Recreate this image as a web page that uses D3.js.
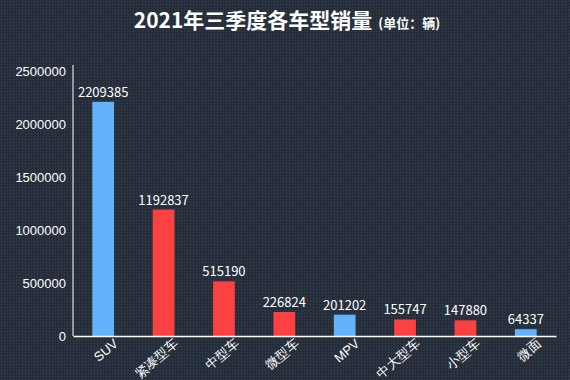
<!DOCTYPE html>
<meta charset="utf-8">
<style>
body { margin: 0; background: #262e3b; }
svg { display: block; font-family: "Noto Sans CJK SC", "Noto Sans", sans-serif; }
.axis path, .axis line { stroke: #fff; }
.axis text { fill: #fff; font-size: 13px; }
</style>
<svg width="570" height="380"></svg>
<script src="https://cdn.jsdelivr.net/npm/d3@7"></script>
<script>

// 车型 / 销量
var categories = ["SUV", "紧凑型车", "中型车", "微型车", "MPV", "中大型车", "小型车", "微面"];
var sales = [2209385, 1192837, 515190, 226824, 201202, 155747, 147880, 64337];
var barColors = ["#63b3fb", "#fb4141", "#fb4141", "#fb4141", "#63b3fb", "#fb4141", "#fb4141", "#63b3fb"];
var yTicks = [0, 500000, 1000000, 1500000, 2000000, 2500000];

var svg = d3.select("svg"),
    width = +svg.attr("width"),
    height = +svg.attr("height");

// textured background
var defs = svg.append("defs");
var pat = defs.append("pattern")
    .attr("id", "bg")
    .attr("width", 3).attr("height", 3)
    .attr("patternUnits", "userSpaceOnUse");
pat.append("rect").attr("width", 3).attr("height", 3).attr("fill", "#2a323f");
pat.append("rect").attr("x", 0).attr("y", 0).attr("width", 1).attr("height", 1).attr("fill", "#1f2631");
pat.append("rect").attr("x", 1).attr("y", 1).attr("width", 1).attr("height", 1).attr("fill", "#323a48");
pat.append("rect").attr("x", 2).attr("y", 2).attr("width", 1).attr("height", 1).attr("fill", "#1f2631");
svg.append("rect").attr("width", width).attr("height", height).attr("fill", "url(#bg)");

var margin = {top: 71, left: 73, right: 14, bottom: 44};

var x = d3.scaleBand()
    .domain(categories)
    .range([margin.left, width - margin.right])
    .paddingInner(0.64)
    .paddingOuter(0.32);

var y = d3.scaleLinear()
    .domain([0, 2500000])
    .range([height - margin.bottom, margin.top]);

// title
var title = svg.append("text")
    .attr("x", 287)
    .attr("y", 28)
    .attr("text-anchor", "middle")
    .attr("fill", "#fff")
    .style("font-weight", "bold");
title.append("tspan").style("font-size", "21px").text("2021年三季度各车型销量");
title.append("tspan").style("font-size", "13px").attr("dx", 6).text("(单位：辆)");

// bars
svg.append("g")
  .selectAll("rect")
  .data(sales)
  .enter().append("rect")
    .attr("x", function(d, i) { return x(categories[i]); })
    .attr("y", function(d) { return y(d); })
    .attr("width", x.bandwidth())
    .attr("height", function(d) { return y(0) - y(d); })
    .attr("fill", function(d, i) { return barColors[i]; });

// value labels
svg.append("g")
  .selectAll("text")
  .data(sales)
  .enter().append("text")
    .attr("x", function(d, i) { return x(categories[i]) + x.bandwidth() / 2; })
    .attr("y", function(d) { return y(d) - 5; })
    .attr("text-anchor", "middle")
    .attr("fill", "#fff")
    .style("font-size", "13px")
    .text(function(d) { return d; });

// y axis
var yAxis = svg.append("g")
    .attr("class", "axis")
    .attr("transform", "translate(" + margin.left + ",0)")
    .call(d3.axisLeft(y).tickValues(yTicks).tickFormat(d3.format("d")).tickSize(0).tickPadding(7));
yAxis.select(".domain").attr("d", "M0," + (margin.top - 6) + "V" + y(0));

// x axis
var xAxis = svg.append("g")
    .attr("class", "axis")
    .attr("transform", "translate(0," + y(0) + ")")
    .call(d3.axisBottom(x).tickSize(0).tickSizeOuter(0).tickPadding(6));
xAxis.select(".domain").attr("stroke-width", 1.5);
xAxis.selectAll("text")
    .attr("text-anchor", "end")
    .attr("dy", "0.35em")
    .attr("transform", "translate(9,1) rotate(-40)");

</script>
